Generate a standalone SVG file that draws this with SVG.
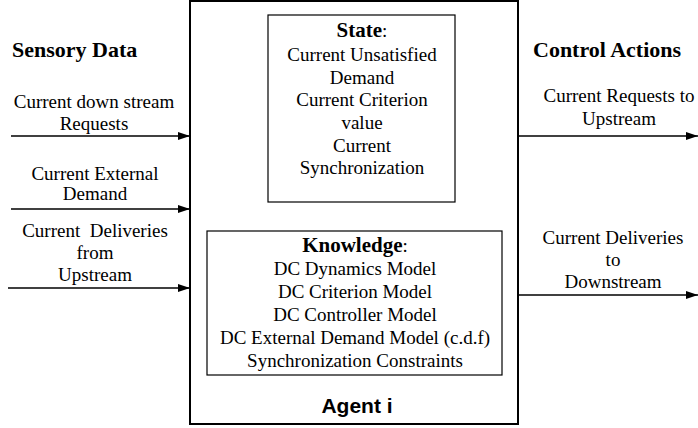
<svg xmlns="http://www.w3.org/2000/svg" width="698" height="428" viewBox="0 0 698 428">
<style>
.t{font-family:'Liberation Serif','Times New Roman',serif;font-size:19px;fill:#000;text-anchor:middle}
.b{font-family:'Liberation Serif','Times New Roman',serif;font-size:22px;font-weight:bold;fill:#000}
.hb{font-weight:bold;font-size:21px}
.box{fill:#fff;stroke:#000}
.ln{stroke:#000;stroke-width:1.3;fill:none}
</style>
<defs>
<marker id="ah" markerWidth="12" markerHeight="8" refX="12" refY="4" orient="auto" markerUnits="userSpaceOnUse">
<path d="M0,0 L12,4 L0,8 Z" fill="#000"/>
</marker>
</defs>
<g id="agent">
<rect class="box" x="190" y="1" width="328" height="423" stroke-width="2"/>
<text x="357" y="413" font-family="'Liberation Sans',Arial,sans-serif" font-size="21" font-weight="bold" text-anchor="middle">Agent i</text>
</g>
<g id="state">
<rect class="box" x="268" y="15" width="187" height="187" stroke-width="1.2"/>
<text class="t" x="362" y="37"><tspan class="hb">State</tspan>:</text>
<text class="t" x="362" y="61">Current Unsatisfied</text>
<text class="t" x="362" y="84">Demand</text>
<text class="t" x="362" y="106">Current Criterion</text>
<text class="t" x="362" y="129">value</text>
<text class="t" x="362" y="152">Current</text>
<text class="t" x="362" y="174">Synchronization</text>
</g>
<g id="knowledge">
<rect class="box" x="207" y="231" width="295" height="144" stroke-width="1.2"/>
<text class="t" x="355" y="252"><tspan class="hb">Knowledge</tspan>:</text>
<text class="t" x="355" y="275">DC Dynamics Model</text>
<text class="t" x="355" y="298">DC Criterion Model</text>
<text class="t" x="355" y="321">DC Controller Model</text>
<text class="t" x="355" y="344">DC External Demand Model (c.d.f)</text>
<text class="t" x="355" y="367">Synchronization Constraints</text>
</g>
<g id="labels">
<text class="b" x="12" y="57">Sensory Data</text>
<text class="b" x="533" y="57">Control Actions</text>
<text class="t" x="94" y="108">Current down stream</text>
<text class="t" x="94" y="130">Requests</text>
<text class="t" x="95" y="180">Current External</text>
<text class="t" x="95" y="200">Demand</text>
<text class="t" x="95" y="237" xml:space="preserve">Current  Deliveries</text>
<text class="t" x="95" y="259">from</text>
<text class="t" x="95" y="281">Upstream</text>
<text class="t" x="619" y="102">Current Requests to</text>
<text class="t" x="619" y="125">Upstream</text>
<text class="t" x="613" y="244">Current Deliveries</text>
<text class="t" x="613" y="266">to</text>
<text class="t" x="613" y="288">Downstream</text>
</g>
<g id="connectors">
<line class="ln" x1="11" y1="136" x2="190" y2="136" marker-end="url(#ah)"/>
<line class="ln" x1="11" y1="209" x2="190" y2="209" marker-end="url(#ah)"/>
<line class="ln" x1="8" y1="288" x2="190" y2="288" marker-end="url(#ah)"/>
<line class="ln" x1="518" y1="136" x2="698" y2="136" marker-end="url(#ah)"/>
<line class="ln" x1="518" y1="295" x2="698" y2="295" marker-end="url(#ah)"/>
</g>
</svg>
